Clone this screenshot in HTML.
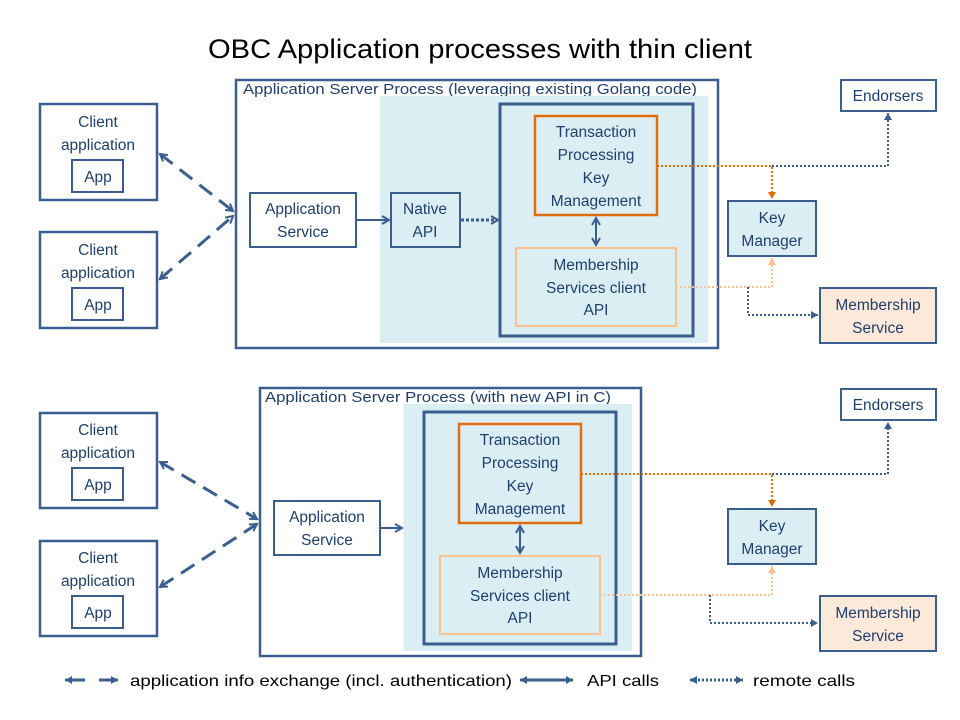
<!DOCTYPE html>
<html><head><meta charset="utf-8"><style>
html,body{margin:0;padding:0;background:#fff}
svg{display:block}
text{font-family:"Liberation Sans",sans-serif;fill:#1f3f6e;font-size:15.5px;text-anchor:middle}
</style></head><body>
<svg width="960" height="720" viewBox="0 0 960 720" xmlns="http://www.w3.org/2000/svg">
<defs>
<marker id="ab" markerWidth="10" markerHeight="10" refX="8" refY="5" orient="auto-start-reverse" markerUnits="userSpaceOnUse"><path d="M1,1 L8,5 L1,9" fill="none" stroke="#3a5f8f" stroke-width="2"/></marker>
<marker id="ao" markerWidth="10" markerHeight="10" refX="8" refY="5" orient="auto-start-reverse" markerUnits="userSpaceOnUse"><path d="M1,1 L8,5 L1,9 Z" fill="#e36c0a"/></marker>
<marker id="alo" markerWidth="10" markerHeight="10" refX="8" refY="5" orient="auto-start-reverse" markerUnits="userSpaceOnUse"><path d="M1,1 L8,5 L1,9 Z" fill="#fac090"/></marker>
<marker id="ad" markerWidth="10" markerHeight="10" refX="8" refY="5" orient="auto-start-reverse" markerUnits="userSpaceOnUse"><path d="M1,1 L8,5 L1,9 Z" fill="#3a5f8f"/></marker>
</defs>
<g stroke-linecap="butt">
<text x="480" y="58" style="font-size:27px;fill:#000" textLength="544" lengthAdjust="spacingAndGlyphs">OBC Application processes with thin client</text>

<!-- TOP -->
<rect x="236" y="80" width="482" height="268" fill="none" stroke="#3a5f8f" stroke-width="2.5"/>
<text x="243" y="94" style="text-anchor:start;font-size:15px" textLength="454" lengthAdjust="spacingAndGlyphs">Application Server Process (leveraging existing Golang code)</text>
<rect x="380" y="96" width="328" height="247" fill="#daeef3"/>
<rect x="500" y="104" width="193" height="232" fill="none" stroke="#3a5f8f" stroke-width="3"/>
<rect x="535" y="116" width="122" height="99" fill="none" stroke="#e36c0a" stroke-width="2.5"/>
<text x="596" y="137">Transaction</text><text x="596" y="160">Processing</text><text x="596" y="183">Key</text><text x="596" y="206">Management</text>
<rect x="516" y="248" width="160" height="78" fill="none" stroke="#fac090" stroke-width="2"/>
<text x="596" y="270">Membership</text><text x="596" y="293">Services client</text><text x="596" y="315">API</text>
<line x1="596" y1="218" x2="596" y2="245" stroke="#3a5f8f" stroke-width="2" marker-start="url(#ab)" marker-end="url(#ab)"/>
<rect x="250" y="193" width="106" height="54" fill="#fff" stroke="#3a5f8f" stroke-width="2"/>
<text x="303" y="214">Application</text><text x="303" y="237">Service</text>
<rect x="391" y="193" width="69" height="54" fill="#daeef3" stroke="#3a5f8f" stroke-width="2"/>
<text x="425" y="214">Native</text><text x="425" y="237">API</text>
<line x1="356" y1="220" x2="389" y2="220" stroke="#3a5f8f" stroke-width="2" marker-end="url(#ab)"/>
<line x1="461" y1="220" x2="498" y2="220" stroke="#3a5f8f" stroke-width="3" stroke-dasharray="3,2" marker-end="url(#ab)"/>
<rect x="40" y="104" width="117" height="96" fill="#fff" stroke="#3a5f8f" stroke-width="2.5"/>
<text x="98" y="127">Client</text><text x="98" y="150">application</text>
<rect x="72" y="160" width="51" height="32" fill="#fff" stroke="#3a5f8f" stroke-width="2"/><text x="98" y="182">App</text>
<rect x="40" y="232" width="117" height="96" fill="#fff" stroke="#3a5f8f" stroke-width="2.5"/>
<text x="98" y="255">Client</text><text x="98" y="278">application</text>
<rect x="72" y="288" width="51" height="32" fill="#fff" stroke="#3a5f8f" stroke-width="2"/><text x="98" y="310">App</text>
<line x1="160" y1="154" x2="233" y2="211" stroke="#3a5f8f" stroke-width="3" stroke-dasharray="16,9" marker-start="url(#ab)" marker-end="url(#ab)"/>
<line x1="160" y1="279" x2="233" y2="216" stroke="#3a5f8f" stroke-width="3" stroke-dasharray="16,9" marker-start="url(#ab)" marker-end="url(#ab)"/>
<rect x="841" y="80" width="95" height="31" fill="#fff" stroke="#3a5f8f" stroke-width="2"/><text x="888" y="101">Endorsers</text>
<rect x="728" y="201" width="88" height="55" fill="#daeef3" stroke="#3a5f8f" stroke-width="2"/><text x="772" y="223">Key</text><text x="772" y="246">Manager</text>
<rect x="820" y="288" width="116" height="55" fill="#fde9d9" stroke="#3a5f8f" stroke-width="2"/><text x="878" y="310">Membership</text><text x="878" y="333">Service</text>
<polyline points="657,166 772,166 772,199" fill="none" stroke="#e36c0a" stroke-width="2" stroke-dasharray="2,2" marker-end="url(#ao)"/>
<polyline points="772,166 888,166 888,113" fill="none" stroke="#3a5f8f" stroke-width="2" stroke-dasharray="2,2" marker-end="url(#ad)"/>
<polyline points="676,287 772,287 772,258" fill="none" stroke="#fac090" stroke-width="2" stroke-dasharray="2,2" marker-end="url(#alo)"/>
<polyline points="748,287 748,315 818,315" fill="none" stroke="#3a5f8f" stroke-width="2" stroke-dasharray="2,2" marker-end="url(#ad)"/>

<!-- BOTTOM -->
<rect x="260" y="388" width="381" height="268" fill="none" stroke="#3a5f8f" stroke-width="2.5"/>
<text x="265" y="402" style="text-anchor:start;font-size:15px" textLength="346" lengthAdjust="spacingAndGlyphs">Application Server Process (with new API in C)</text>
<rect x="404" y="404" width="228" height="247" fill="#daeef3"/>
<rect x="424" y="412" width="192" height="232" fill="none" stroke="#3a5f8f" stroke-width="3"/>
<rect x="459" y="424" width="122" height="99" fill="none" stroke="#e36c0a" stroke-width="2.5"/>
<text x="520" y="445">Transaction</text><text x="520" y="468">Processing</text><text x="520" y="491">Key</text><text x="520" y="514">Management</text>
<rect x="440" y="556" width="160" height="78" fill="none" stroke="#fac090" stroke-width="2"/>
<text x="520" y="578">Membership</text><text x="520" y="601">Services client</text><text x="520" y="623">API</text>
<line x1="520" y1="526" x2="520" y2="553" stroke="#3a5f8f" stroke-width="2" marker-start="url(#ab)" marker-end="url(#ab)"/>
<rect x="274" y="501" width="106" height="54" fill="#fff" stroke="#3a5f8f" stroke-width="2"/>
<text x="327" y="522">Application</text><text x="327" y="545">Service</text>
<line x1="380" y1="528" x2="402" y2="528" stroke="#3a5f8f" stroke-width="2" marker-end="url(#ab)"/>
<rect x="40" y="413" width="117" height="95" fill="#fff" stroke="#3a5f8f" stroke-width="2.5"/>
<text x="98" y="435">Client</text><text x="98" y="458">application</text>
<rect x="72" y="468" width="51" height="32" fill="#fff" stroke="#3a5f8f" stroke-width="2"/><text x="98" y="490">App</text>
<rect x="40" y="541" width="117" height="95" fill="#fff" stroke="#3a5f8f" stroke-width="2.5"/>
<text x="98" y="563">Client</text><text x="98" y="586">application</text>
<rect x="72" y="596" width="51" height="32" fill="#fff" stroke="#3a5f8f" stroke-width="2"/><text x="98" y="618">App</text>
<line x1="160" y1="462" x2="257" y2="519" stroke="#3a5f8f" stroke-width="3" stroke-dasharray="16,9" marker-start="url(#ab)" marker-end="url(#ab)"/>
<line x1="160" y1="587" x2="257" y2="524" stroke="#3a5f8f" stroke-width="3" stroke-dasharray="16,9" marker-start="url(#ab)" marker-end="url(#ab)"/>
<rect x="841" y="389" width="95" height="31" fill="#fff" stroke="#3a5f8f" stroke-width="2"/><text x="888" y="410">Endorsers</text>
<rect x="728" y="509" width="88" height="55" fill="#daeef3" stroke="#3a5f8f" stroke-width="2"/><text x="772" y="531">Key</text><text x="772" y="554">Manager</text>
<rect x="820" y="596" width="116" height="55" fill="#fde9d9" stroke="#3a5f8f" stroke-width="2"/><text x="878" y="618">Membership</text><text x="878" y="641">Service</text>
<polyline points="581,474 772,474 772,507" fill="none" stroke="#e36c0a" stroke-width="2" stroke-dasharray="2,2" marker-end="url(#ao)"/>
<polyline points="772,474 888,474 888,422" fill="none" stroke="#3a5f8f" stroke-width="2" stroke-dasharray="2,2" marker-end="url(#ad)"/>
<polyline points="600,595 772,595 772,566" fill="none" stroke="#fac090" stroke-width="2" stroke-dasharray="2,2" marker-end="url(#alo)"/>
<polyline points="710,595 710,623 818,623" fill="none" stroke="#3a5f8f" stroke-width="2" stroke-dasharray="2,2" marker-end="url(#ad)"/>

<!-- LEGEND -->
<line x1="65" y1="680" x2="118" y2="680" stroke="#3a5f8f" stroke-width="3" stroke-dasharray="20,14" marker-start="url(#ad)" marker-end="url(#ad)"/>
<text x="130" y="686" style="text-anchor:start;fill:#000;font-size:16px" textLength="382" lengthAdjust="spacingAndGlyphs">application info exchange (incl. authentication)</text>
<line x1="520" y1="680" x2="573" y2="680" stroke="#3a5f8f" stroke-width="3" marker-start="url(#ad)" marker-end="url(#ad)"/>
<text x="587" y="686" style="text-anchor:start;fill:#000;font-size:16px" textLength="72" lengthAdjust="spacingAndGlyphs">API calls</text>
<line x1="690" y1="680" x2="743" y2="680" stroke="#3a5f8f" stroke-width="3" stroke-dasharray="2,2" marker-start="url(#ad)" marker-end="url(#ad)"/>
<text x="753" y="686" style="text-anchor:start;fill:#000;font-size:16px" textLength="102" lengthAdjust="spacingAndGlyphs">remote calls</text>
</g>
</svg>
</body></html>
